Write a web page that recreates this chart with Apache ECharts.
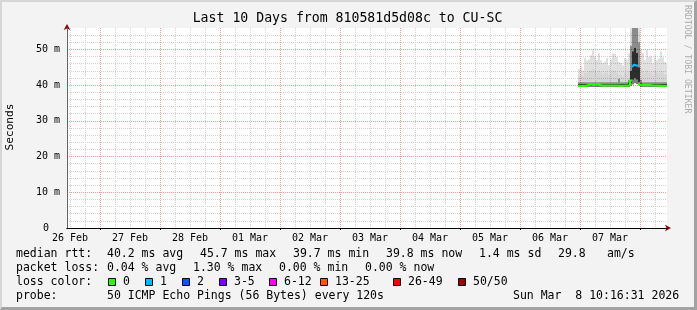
<!DOCTYPE html>
<html><head><meta charset="utf-8">
<script src="https://cdn.jsdelivr.net/npm/echarts@6/dist/echarts.min.js"></script>
<style>
html,body{margin:0;padding:0;background:#f3f3f3;overflow:hidden;}
#frame{position:absolute;left:0;top:0;width:697px;height:310px;box-sizing:border-box;border-left:2px solid #d6d6d6;border-top:2px solid #d6d6d6;border-right:3px solid #a2a2a2;border-bottom:3px solid #a2a2a2;}
#chart{position:absolute;left:0;top:0;width:697px;height:310px;}
</style></head><body>
<div id="frame"></div><div id="chart"></div>
<script>
// ---------- data ----------
const TITLE = 'Last 10 Days from 810581d5d08c to CU-SC';
const X_MIN = 10.8, X_MAX = 250.8;          // hours since 26 Feb 00:00
const Y_MIN = 0, Y_MAX = 56;                // milliseconds
const dayLabels = ['26 Feb','27 Feb','28 Feb','01 Mar','02 Mar','03 Mar','04 Mar','05 Mar','06 Mar','07 Mar'];
const dayLabelHours = [12,36,60,84,108,132,156,180,204,228];
const dayLineHours = [24,48,72,96,120,144,168,192,216,240];
const minorLineHours = [12,18,30,36,42,54,60,66,78,84,90,102,108,114,126,132,138,150,156,162,174,180,186,198,204,210,222,228,234,246];

// sample times (hours)
const hours = [215.2,216.0,216.8,217.6,218.4,219.2,220.0,220.8,221.6,222.4,223.2,224.0,224.8,225.6,226.4,227.2,228.0,228.8,229.6,230.4,231.2,232.0,232.8,233.6,234.4,235.2,236.0,236.8,237.6,238.4,239.2,240.0,240.8,241.6,242.4,243.2,244.0,244.8,245.6,246.4,247.2,248.0,248.8,249.6,250.4,250.8];
// median rtt (ms)
const median = [39.8,39.8,39.7,39.8,40.1,40.2,40.2,40.1,40.2,40.2,40.1,39.9,39.9,39.9,40.0,39.9,39.9,39.9,40.0,39.9,39.9,39.8,39.8,39.9,39.9,39.9,41.3,45.1,45.7,45.4,40.3,40.0,40.0,40.1,40.1,40.0,40.0,39.9,40.0,39.9,39.9,39.8,39.8,39.8,39.8,39.8];
// lost pings out of 50
const loss = [0,0,0,0,0,0,0,0,0,0,0,0,0,0,0,0,0,0,0,0,0,0,0,0,0,0,0,1,1,1,0,0,0,0,0,0,0,0,0,0,0,0,0,0,0,0];
// smoke percentiles (ms)
const smokeLo  = [39.5,39.5,39.5,39.5,39.5,39.5,39.5,39.5,39.5,39.5,39.5,39.5,39.5,39.5,39.5,39.5,39.5,39.5,39.5,39.5,39.5,39.5,39.5,39.5,39.5,39.5,39.8,40.2,40.5,40.3,40.0,39.5,39.5,39.5,39.5,39.5,39.5,39.5,39.5,39.5,39.5,39.5,39.5,39.5,39.5,39.5];
const smokeQ1  = [39.7,39.7,39.7,39.7,39.7,39.7,39.7,39.7,39.7,39.7,39.7,39.7,39.7,39.7,39.7,39.7,39.7,39.7,39.7,39.7,39.7,39.7,39.7,39.7,39.7,39.7,40.5,41.5,42.0,41.5,40.8,39.7,39.7,39.7,39.7,39.7,39.7,39.7,39.7,39.7,39.7,39.7,39.7,39.7,39.7,39.7];
const smokeQ3  = [40.3,40.3,40.3,40.3,40.3,40.3,40.3,40.3,40.3,40.3,40.3,40.3,40.3,40.3,40.3,40.3,40.3,40.3,40.3,40.3,40.3,40.3,40.3,40.3,40.3,40.8,44.0,49.5,50.5,49.0,45.0,40.6,40.3,40.3,40.3,40.3,40.3,40.3,40.3,40.3,40.3,40.3,40.3,40.3,40.3,40.3];
const smokeP90 = [40.8,40.8,40.8,40.8,40.8,40.8,40.8,40.8,40.8,40.8,40.8,40.8,40.8,40.8,40.8,40.8,40.8,40.8,40.8,40.8,41.8,40.8,40.8,40.8,40.8,41.5,51.0,56.5,57.0,56.5,52.0,41.5,40.8,40.8,40.8,40.8,40.8,40.8,40.8,40.8,40.8,40.8,40.8,40.8,40.8,40.8];
const smokeP95 = [42.5,43.0,42.5,43.5,43.5,44.0,44.0,44.5,44.0,43.5,44.0,43.5,43.0,43.5,43.5,43.0,43.5,44.0,44.0,43.5,43.0,43.0,42.5,43.5,43.5,44.0,55.0,57.5,57.8,57.5,55.0,45.0,44.0,43.5,44.0,43.5,43.5,43.0,44.0,43.5,43.5,44.0,43.5,43.0,43.0,43.0];
const smokeMax = [44.5,45.5,44.2,47.5,46.8,47.2,48.4,50.0,48.2,47.0,48.9,47.0,46.2,46.6,47.6,45.6,47.2,48.9,48.7,47.9,46.5,46.2,45.6,47.5,47.2,48.9,57.0,58.0,58.0,58.0,57.0,50.0,48.9,47.0,49.8,47.9,48.2,46.1,48.4,47.0,47.5,49.4,47.8,46.5,46.2,46.2];

const yLabelValues = [0,10,20,30,40,50];
const lossClasses = [
  {label:'0', min:0, max:0, color:'#26ff00'},
  {label:'1', min:1, max:1, color:'#00b8ff'},
  {label:'2', min:2, max:2, color:'#0059ff'},
  {label:'3-5', min:3, max:5, color:'#7e00ff'},
  {label:'6-12', min:6, max:12, color:'#ff00ff'},
  {label:'13-25', min:13, max:25, color:'#ff5500'},
  {label:'26-49', min:26, max:49, color:'#ff0000'},
  {label:'50/50', min:50, max:50, color:'#a10000'}
];
const rttTexts = ['median rtt:','40.2 ms avg','45.7 ms max','39.7 ms min','39.8 ms now','1.4 ms sd','29.8','am/s'];
const lossTexts = ['packet loss:','0.04 % avg','1.30 % max','0.00 % min','0.00 % now'];
const probeTexts = ['probe:','50 ICMP Echo Pings (56 Bytes) every 120s','Sun Mar  8 10:16:31 2026'];

// ---------- layout / style ----------
const FONT = '"DejaVu Sans Mono", monospace';
const rttX = [16,107,200,293,386,479,558,607];
const lossX = [16,107,193,279,365];
const probeX = [16,107,513];
const boxX = [108,145,182,219,269,320,393,458];
const LINE_Y = [254,268,282,296];
const bandColors = ['rgba(0,0,0,0.5)','rgba(0,0,0,0.82)','rgba(0,0,0,0.45)','rgba(0,0,0,0.16)','rgba(0,0,0,0.12)'];

// ---------- build series ----------
const n = hours.length;
const series = [];
// smoke: one column per sample, bands between successive percentiles
series.push({
  type:'custom', z:2, silent:true,
  data: hours.slice(0, n-1).map((h,i)=>[h, hours[i+1], smokeLo[i], smokeQ1[i], smokeQ3[i], smokeP90[i], smokeP95[i], smokeMax[i]]),
  encode:{x:[0,1], y:[2,3,4,5,6,7]},
  renderItem(params, api){
    const cs = params.coordSys;
    const x0 = api.coord([api.value(0), Y_MIN])[0];
    const x1 = api.coord([api.value(1), Y_MIN])[0];
    const children = [];
    for (let k=0;k<bandColors.length;k++){
      const yb = api.coord([X_MIN, api.value(2+k)])[1];
      const yt = api.coord([X_MIN, api.value(3+k)])[1];
      const shape = echarts.graphic.clipRectByRect(
        {x:x0, y:yt, width:x1-x0, height:yb-yt},
        {x:cs.x, y:cs.y, width:cs.width, height:cs.height});
      if (shape) children.push({type:'rect', shape, style:{fill:bandColors[k]}});
    }
    return {type:'group', children};
  }
});
function classOf(l){ return lossClasses.findIndex(c=>l>=c.min && l<=c.max); }
lossClasses.forEach((c,ci)=>{
  const data = [];
  let any = false;
  for (let i=0;i<n-1;i++){
    if (classOf(loss[i])===ci){ data.push([hours[i],median[i]],[hours[i+1],median[i]]); any = true; }
    else data.push([hours[i],'-']);
  }
  if (any) series.push({type:'line', symbol:'none', silent:true, z:5, data, connectNulls:false,
    lineStyle:{width:2.2, color:c.color}});
});

// ---------- graphics ----------
const g = [];
function txt(x,y,text,opts){
  const o = Object.assign({size:11.5, fill:'#000', align:'left', vAlign:'middle', rotation:0}, opts||{});
  g.push({type:'text', x, y, rotation:o.rotation, silent:true, style:{text, font: o.size+'px '+FONT, fill:o.fill,
    align:o.align, textAlign:o.align, verticalAlign:o.vAlign, textVerticalAlign:o.vAlign}});
}
txt(347.5, 19, TITLE, {size:13.2, align:'center'});
txt(10, 127, 'Seconds', {align:'center', rotation:Math.PI/2, size:11.2});
txt(687, 5, 'RRDTOOL / TOBI OETIKER', {size:8.2, fill:'#ababab', rotation:-Math.PI/2});
rttTexts.forEach((t,i)=>txt(rttX[i], LINE_Y[0], t));
lossTexts.forEach((t,i)=>txt(lossX[i], LINE_Y[1], t));
txt(16, LINE_Y[2], 'loss color:');
lossClasses.forEach((c,i)=>{
  g.push({type:'rect', silent:true, shape:{x:boxX[i]+0.5, y:LINE_Y[2]-3.5, width:7, height:7}, style:{fill:c.color, stroke:'#000', lineWidth:1}});
  txt(boxX[i]+15, LINE_Y[2], c.label);
});
probeTexts.forEach((t,i)=>txt(probeX[i], LINE_Y[3], t));

// ---------- chart ----------
const chart = echarts.init(document.getElementById('chart'), null, {renderer:'canvas'});
const redLine = {color:'#ff9a9a', type:[1,1], width:1};
const greyLine = {color:'#d2d2d2', type:[1,1], width:1};
chart.setOption({
  animation:false,
  backgroundColor:'transparent',
  grid:{left:67, top:28, width:600, height:200, show:true, backgroundColor:'#ffffff', borderWidth:0, containLabel:false, outerBoundsMode:'none'},
  xAxis:[
    {type:'value', min:X_MIN, max:X_MAX, position:'bottom', offset:0, z:1.5,
     axisLine:{show:true, onZero:false, lineStyle:{color:'#000', width:1}},
     axisTick:{show:true, customValues:dayLineHours, length:2, lineStyle:{color:'#000'}},
     axisLabel:{customValues:dayLabelHours, formatter:v=>dayLabels[dayLabelHours.indexOf(v)] || '', fontFamily:FONT, fontSize:10, color:'#000', margin:5},
     splitLine:{show:true, lineStyle:redLine}},
    {type:'value', min:X_MIN, max:X_MAX, position:'bottom', offset:0, z:1,
     axisLine:{show:false}, axisTick:{show:false, customValues:minorLineHours}, axisLabel:{show:false},
     splitLine:{show:true, lineStyle:greyLine}},
    {type:'value', min:X_MIN, max:X_MAX, position:'bottom', offset:0, z:0.5,
     axisLine:{show:true, onZero:false, symbol:['none','arrow'], symbolSize:[5,6], symbolOffset:[0,4], lineStyle:{color:'#8b0000', width:1}},
     axisTick:{show:false}, axisLabel:{show:false}, splitLine:{show:false}}
  ],
  yAxis:[
    {type:'value', min:Y_MIN, max:Y_MAX, interval:10, position:'left', offset:0, z:1.5,
     axisLine:{show:true, onZero:false, lineStyle:{color:'#666', width:1}},
     axisTick:{show:false},
     axisLabel:{showMaxLabel:false, fontFamily:FONT, fontSize:10, color:'#000', margin:7,
       formatter:v=> yLabelValues.indexOf(v)<0 ? '' : (v===0 ? '{z|0}' : v+' m'),
       rich:{z:{fontFamily:FONT, fontSize:10, color:'#000', padding:[0,11,0,0]}}},
     splitLine:{show:true, showMinLine:false, showMaxLine:false, lineStyle:redLine}},
    {type:'value', min:Y_MIN, max:Y_MAX, interval:2, position:'left', offset:0, z:1,
     axisLine:{show:false}, axisTick:{show:false}, axisLabel:{show:false},
     splitLine:{show:true, showMinLine:false, showMaxLine:false, lineStyle:greyLine}},
    {type:'value', min:Y_MIN, max:Y_MAX, position:'left', offset:0, z:0.5,
     axisLine:{show:true, onZero:false, symbol:['none','arrow'], symbolSize:[5,6], symbolOffset:[0,4], lineStyle:{color:'#8b0000', width:1}},
     axisTick:{show:false}, axisLabel:{show:false}, splitLine:{show:false}}
  ],
  series: series,
  graphic:{elements:g}
});
</script>
</body></html>
